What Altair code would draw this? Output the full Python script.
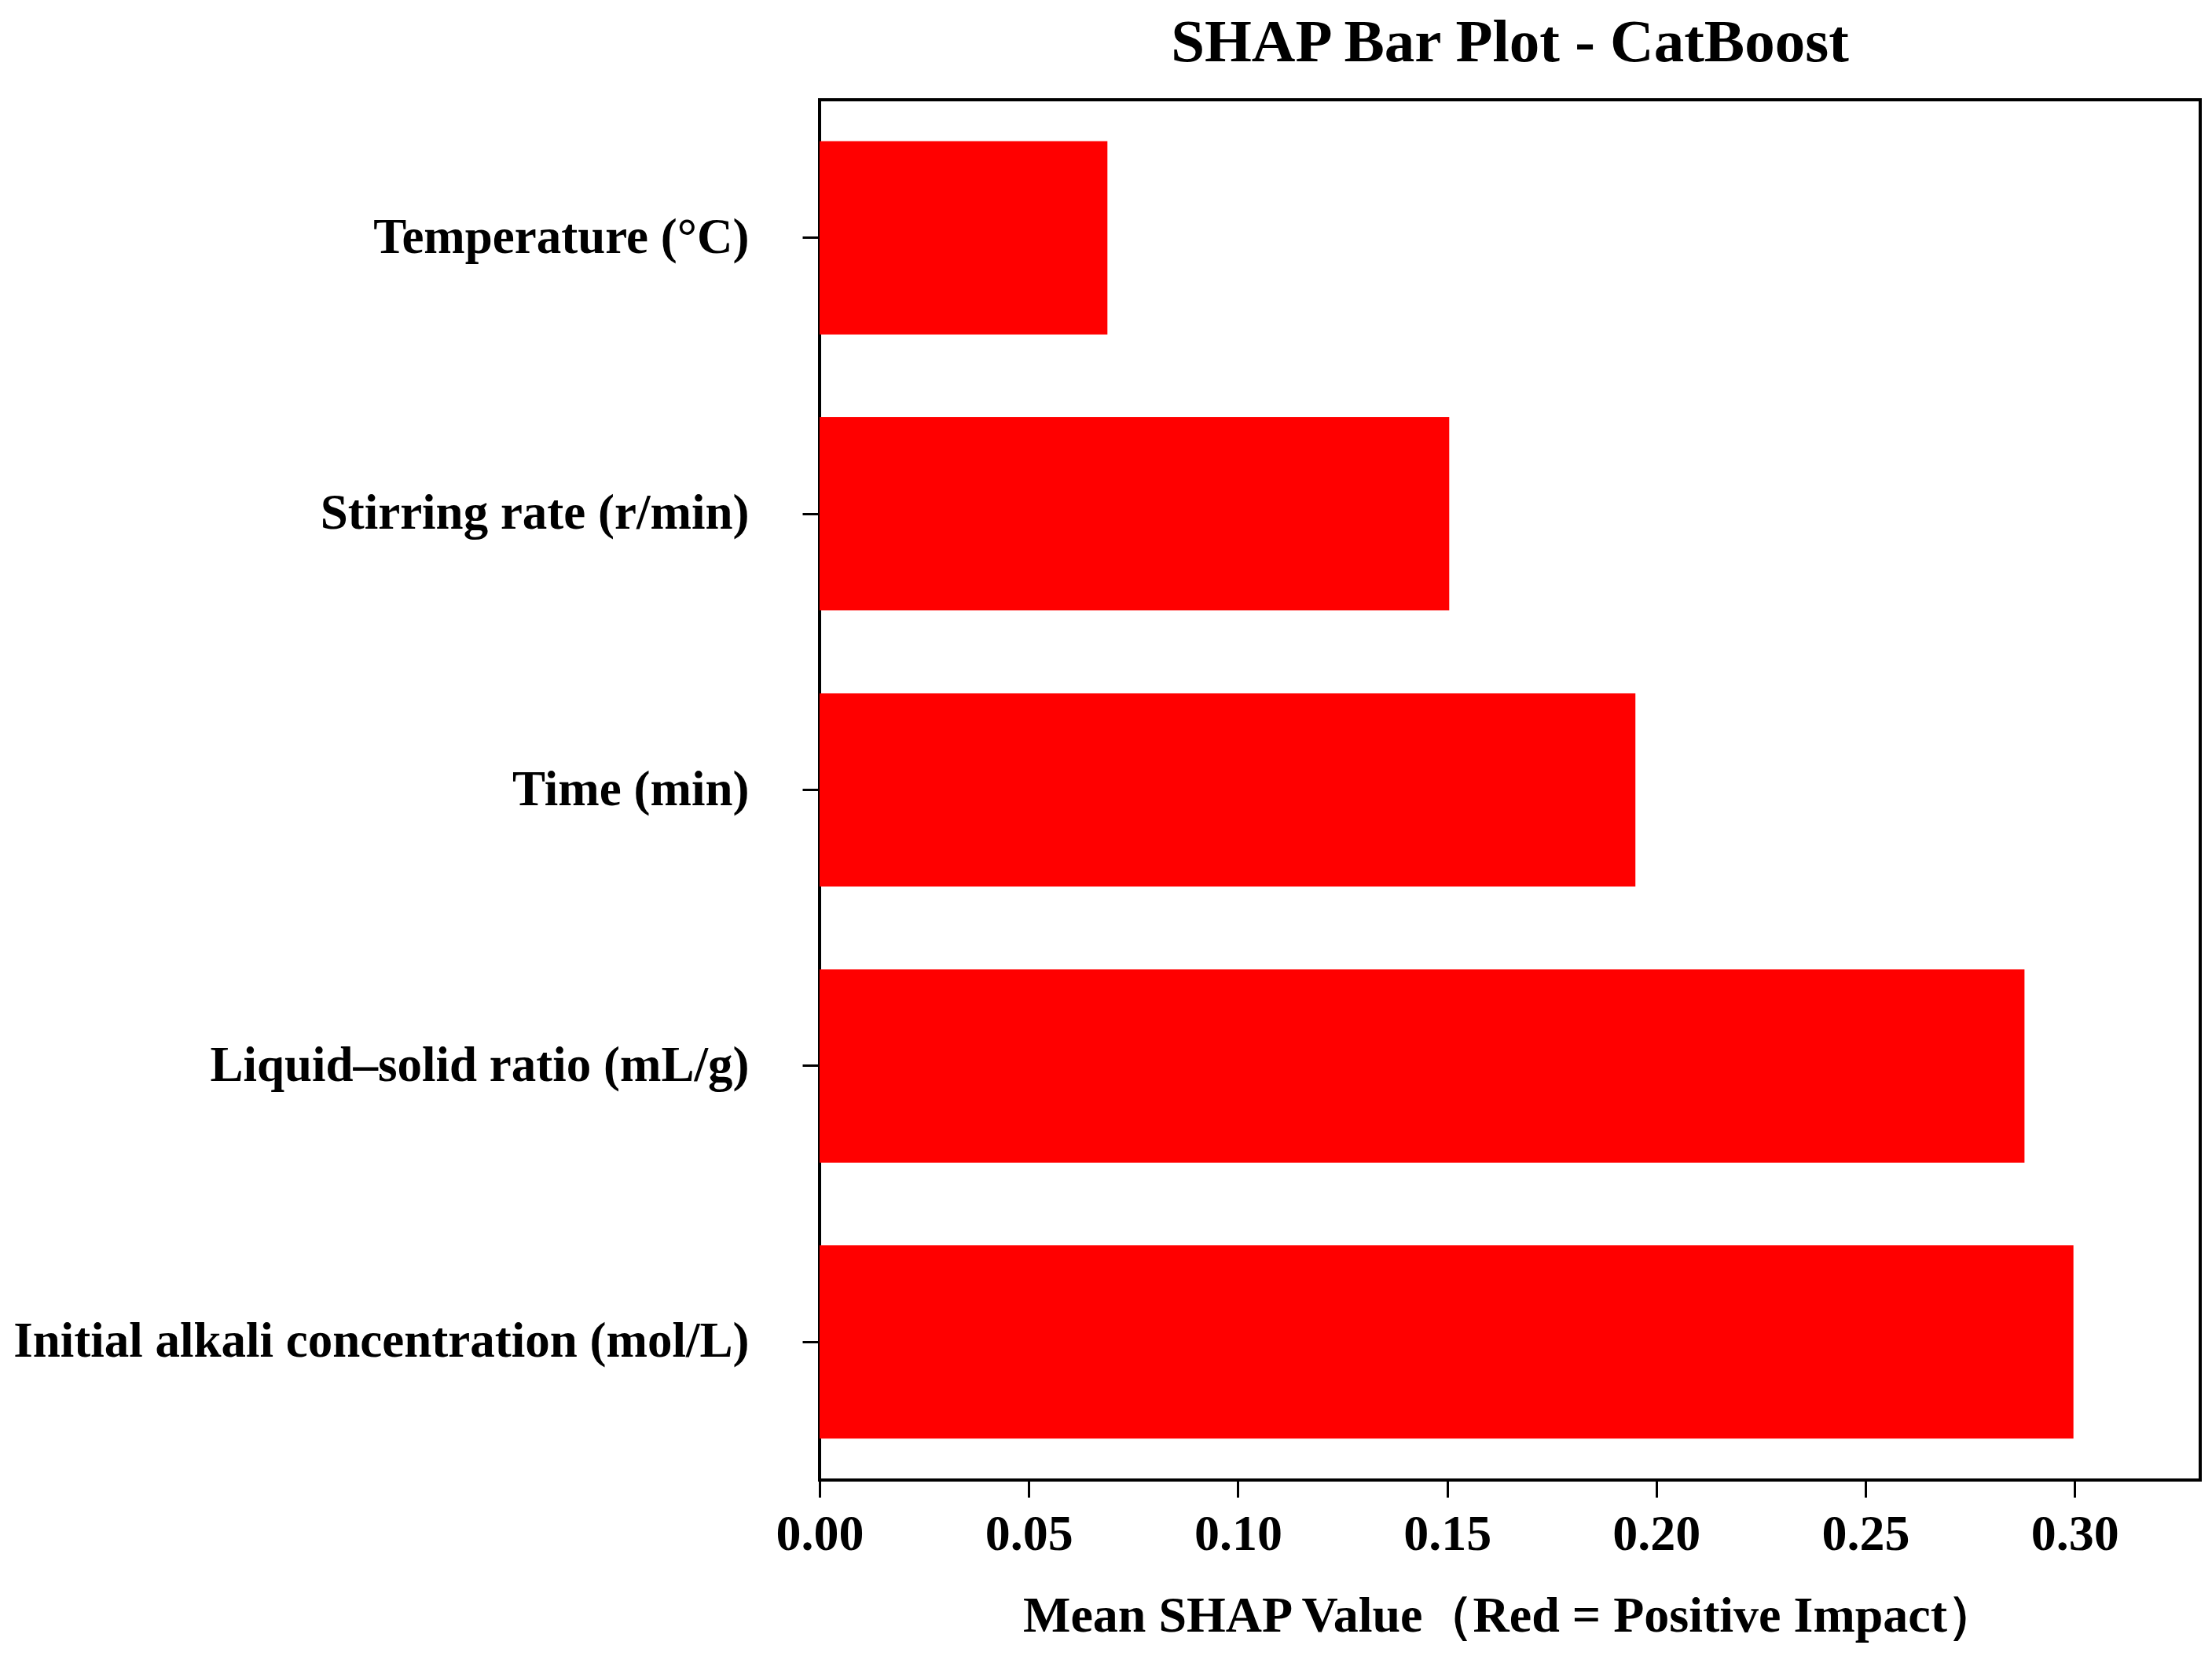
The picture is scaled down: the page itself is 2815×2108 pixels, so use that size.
import altair as alt
import pandas as pd


features = [
    "Temperature (°C)",
    "Stirring rate (r/min)",
    "Time (min)",
    "Liquid–solid ratio (mL/g)",
    "Initial alkali concentration (mol/L)",
]
mean_shap = [0.0688, 0.1505, 0.195, 0.288, 0.2997]
x_ticks = [0.0, 0.05, 0.10, 0.15, 0.20, 0.25, 0.30]

df = pd.DataFrame({"feature": features, "shap": mean_shap})

FONT = "Liberation Serif"

title = alt.TitleParams(
    "SHAP Bar Plot - CatBoost",
    font=FONT, fontSize=77, fontWeight="bold", color="black",
    anchor="middle", offset=33)

bars = alt.Chart(df, title=title).mark_bar(color="#FF0000").encode(
    alt.X("shap:Q",
          scale=alt.Scale(domain=[0, 0.33], nice=False, zero=True),
          axis=alt.Axis(values=x_ticks, format=".2f", grid=False,
                        title="Mean SHAP Value（Red = Positive Impact）",
                        domain=False, tickColor="black", tickWidth=3, tickSize=22,
                        labelFlush=False,
                        labelFont=FONT, labelFontSize=64, labelFontWeight="bold",
                        labelColor="black", labelPadding=15,
                        titleFont=FONT, titleFontSize=64, titleFontWeight="bold",
                        titleColor="black", titlePadding=40)),
    alt.Y("feature:N", sort=features,
          scale=alt.Scale(paddingInner=0.3, paddingOuter=0.15),
          axis=alt.Axis(title=None, domain=False, grid=False,
                        tickColor="black", tickWidth=3, tickSize=22,
                        labelFont=FONT, labelFontSize=63, labelFontWeight="bold",
                        labelColor="black", labelPadding=68, labelLimit=2000)),
)

chart = bars.properties(
    width=1757, height=1757,
    autosize=alt.AutoSizeParams(type="none"),
    padding={"left": 1035, "top": 119, "right": 6, "bottom": 222},
).configure_view(stroke="black", strokeWidth=4)

chart.save("out.html", embed_options={"renderer": "svg", "actions": False})
